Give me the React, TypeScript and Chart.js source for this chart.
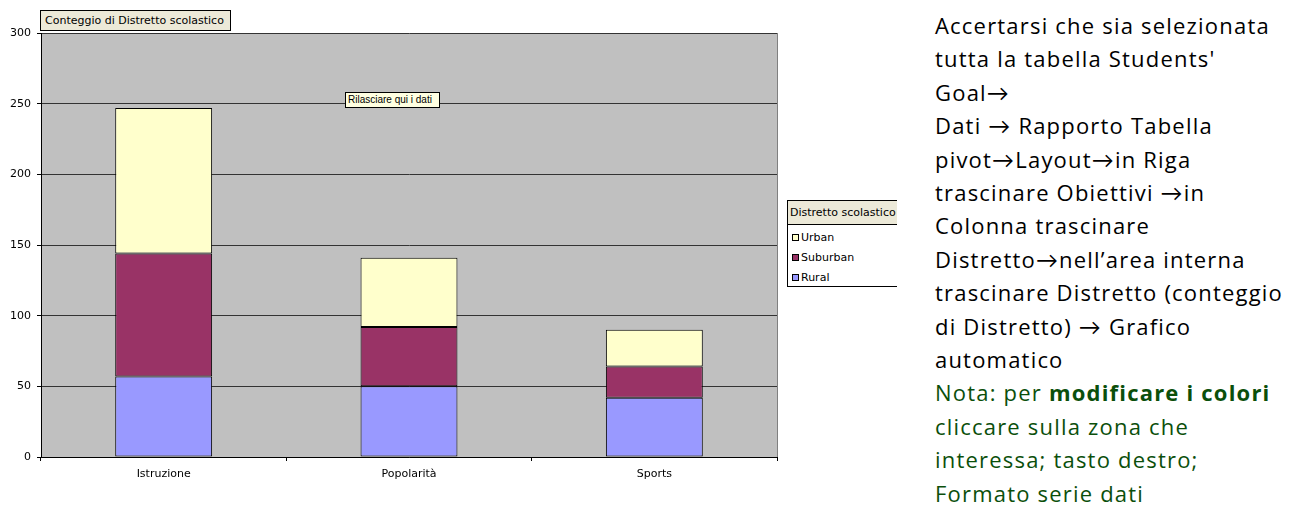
import React, { useEffect, useRef } from "react";
import { Chart, registerables } from "chart.js";

Chart.register(...registerables);

// ---- data ----
const categories = ["Istruzione", "Popolarità", "Sports"];
const rural = [57, 50, 42];
const suburban = [87, 42, 22];
const urban = [103, 49, 26];
const seriesNames = ["Rural", "Suburban", "Urban"];
const seriesColors = ["#9999FF", "#993366", "#FFFFCC"];
const yTicks = [0, 50, 100, 150, 200, 250, 300];
const legendOrder = [2, 1, 0]; // Urban, Suburban, Rural
const chartTitle = "Conteggio di Distretto scolastico";
const legendTitle = "Distretto scolastico";
const dropHint = "Rilasciare qui i dati";
const blackLines = [
  "Accertarsi che sia selezionata",
  "tutta la tabella Students'",
  "Goal→",
  "Dati → Rapporto Tabella",
  "pivot→Layout→in Riga",
  "trascinare Obiettivi →in",
  "Colonna trascinare",
  "Distretto→nell’area interna",
  "trascinare Distretto (conteggio",
  "di Distretto) → Grafico",
  "automatico",
];
const greenLines = [
  "cliccare sulla zona che",
  "interessa; tasto destro;",
  "Formato serie dati",
];
const notePrefix = "Nota: per ";
const noteBold = "modificare i colori";

const AXIS_FONT = "'DejaVu Sans', sans-serif";

const plotBg = {
  id: "plotBg",
  beforeDraw(chart: any) {
    const { ctx, chartArea } = chart;
    ctx.save();
    ctx.fillStyle = "#C0C0C0";
    ctx.fillRect(chartArea.left, chartArea.top, chartArea.right - chartArea.left, chartArea.bottom - chartArea.top);
    ctx.restore();
  },
  afterDraw(chart: any) {
    const { ctx, chartArea } = chart;
    ctx.save();
    ctx.strokeStyle = "#808080";
    ctx.lineWidth = 1;
    ctx.beginPath();
    ctx.moveTo(Math.round(chartArea.right) + 0.5, chartArea.top);
    ctx.lineTo(Math.round(chartArea.right) + 0.5, chartArea.bottom);
    ctx.stroke();
    ctx.restore();
  },
};

function ChartCanvas() {
  const ref = useRef<HTMLCanvasElement | null>(null);
  useEffect(() => {
    if (!ref.current) return;
    const values = [rural, suburban, urban];
    const chart = new Chart(ref.current, {
      type: "bar",
      data: {
        labels: categories,
        datasets: seriesNames.map((name, i) => ({
          label: name,
          data: values[i],
          backgroundColor: seriesColors[i],
          borderColor: "#000000",
          borderWidth: 1,
          borderSkipped: false,
          inflateAmount: 0,
          barPercentage: 0.395,
          categoryPercentage: 1,
        })),
      },
      options: {
        responsive: false,
        animation: false,
        devicePixelRatio: 1,
        events: [],
        layout: { padding: { left: 0, top: 33, right: 123, bottom: 0 } },
        plugins: {
          legend: { display: false },
          tooltip: { enabled: false },
          title: { display: false },
        },
        scales: {
          x: {
            stacked: true,
            offset: true,
            grid: {
              display: true,
              drawOnChartArea: false,
              drawTicks: true,
              tickLength: 4,
              color: "#000000",
              offset: true,
            },
            border: { display: true, color: "#000000", width: 1 },
            ticks: {
              color: "#000000",
              font: { family: AXIS_FONT, size: 11 },
              padding: 7,
              maxRotation: 0,
            },
            afterFit: (s: any) => {
              s.height = 49;
            },
          },
          y: {
            stacked: true,
            min: yTicks[0],
            max: yTicks[yTicks.length - 1],
            afterBuildTicks: (s: any) => {
              s.ticks = yTicks.map((v) => ({ value: v }));
            },
            grid: {
              color: "#333333",
              tickColor: "#000000",
              tickLength: 4,
              drawTicks: true,
            },
            border: { display: true, color: "#000000", width: 1 },
            ticks: {
              color: "#000000",
              font: { family: AXIS_FONT, size: 11 },
              padding: 6,
            },
            afterFit: (s: any) => {
              s.width = 41;
            },
          },
        },
      },
      plugins: [plotBg],
    } as any);
    return () => chart.destroy();
  }, []);
  return <canvas ref={ref} width={900} height={506} style={{ position: "absolute", left: 0, top: 0 }} />;
}

export default function App() {
  const lineH = 33.4;
  const textTop = 9;
  return (
    <div style={{ position: "absolute", left: 0, top: 0, width: 1299, height: 506, background: "#ffffff", overflow: "hidden" }}>
      <ChartCanvas />
      {/* chart title */}
      <div
        style={{
          position: "absolute",
          left: 40,
          top: 10,
          width: 185,
          height: 19,
          border: "1px solid #000",
          background: "#ECE9D8",
          font: `11px ${AXIS_FONT}`,
          lineHeight: "19px",
          paddingLeft: 4,
          boxSizing: "content-box",
          whiteSpace: "nowrap",
          color: "#000",
        }}
      >
        {chartTitle}
      </div>
      {/* drop hint */}
      <div
        style={{
          position: "absolute",
          left: 345,
          top: 92,
          width: 91,
          height: 14,
          border: "1px solid #000",
          background: "#FFFFE1",
          font: "10px 'Liberation Sans', Arial, sans-serif",
          lineHeight: "14px",
          paddingLeft: 2,
          whiteSpace: "nowrap",
          color: "#000",
          boxSizing: "content-box",
        }}
      >
        {dropHint}
      </div>
      {/* legend */}
      <div style={{ position: "absolute", left: 787, top: 200, width: 110, height: 88, overflow: "hidden" }}>
        <div style={{ width: 150, height: 85, border: "1px solid #000", background: "#fff", font: `11px ${AXIS_FONT}`, color: "#000" }}>
          <div style={{ height: 23, lineHeight: "23px", background: "#ECE9D8", borderBottom: "1px solid #000", paddingLeft: 2, whiteSpace: "nowrap" }}>
            {legendTitle}
          </div>
          <div style={{ paddingTop: 2 }}>
            {legendOrder.map((i) => (
              <div key={i} style={{ height: 20, display: "flex", alignItems: "center", paddingLeft: 4 }}>
                <span style={{ display: "inline-block", width: 5, height: 5, border: "1px solid #000", background: seriesColors[i], marginRight: 2 }} />
                <span>{seriesNames[i]}</span>
              </div>
            ))}
          </div>
        </div>
      </div>
      {/* instructions */}
      <div
        style={{
          position: "absolute",
          left: 935,
          top: textTop,
          font: "22px 'Open Sans', Lato, sans-serif",
          letterSpacing: "1.2px",
          lineHeight: `${lineH}px`,
          whiteSpace: "nowrap",
        }}
      >
        {blackLines.map((l, i) => (
          <div key={"b" + i} style={{ color: "#000" }}>{l}</div>
        ))}
        <div style={{ color: "#0B4F0B" }}>
          {notePrefix}
          <b>{noteBold}</b>
        </div>
        {greenLines.map((l, i) => (
          <div key={"g" + i} style={{ color: "#0B4F0B" }}>{l}</div>
        ))}
      </div>
    </div>
  );
}
